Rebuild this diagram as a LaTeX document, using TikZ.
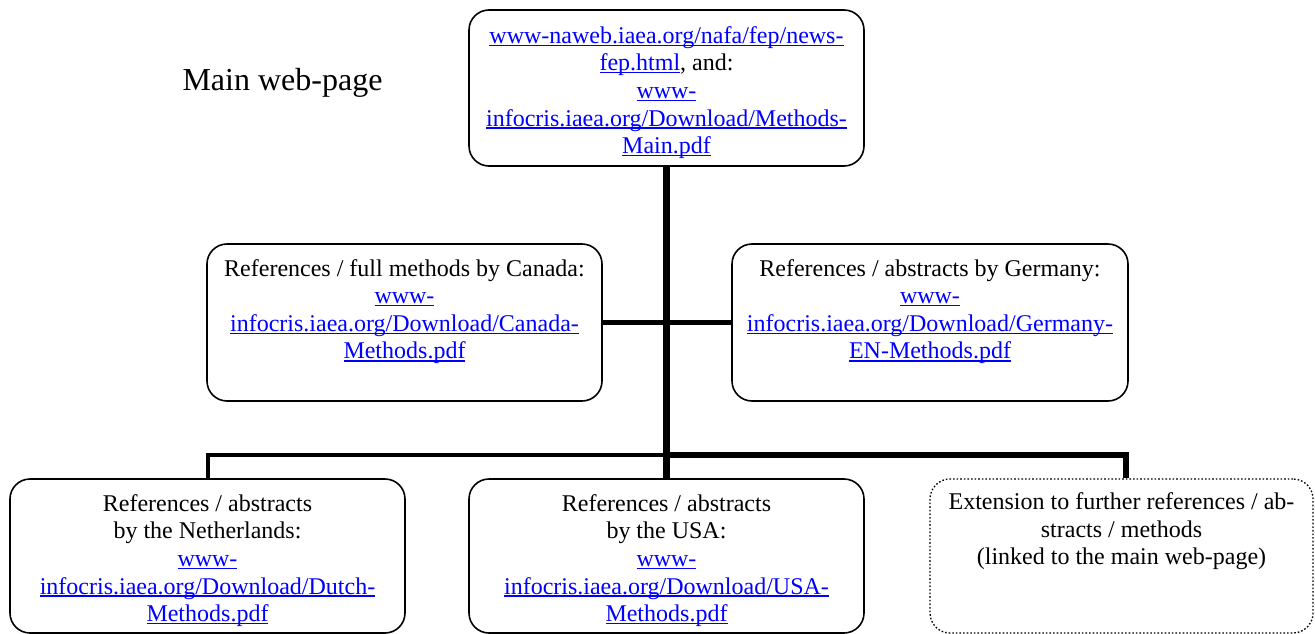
\documentclass[tikz,border=0pt]{standalone}
\usepackage{fontspec}
\setmainfont{Liberation Serif}
\usepackage{tikz}
\usetikzlibrary{shapes,arrows,positioning}
\definecolor{linkblue}{RGB}{0,0,255}
\newcommand{\weblink}[1]{\leavevmode{\color{linkblue}\setbox0\hbox{#1}\rlap{\rule[-2.6pt]{\wd0}{1.3pt}}\box0}}
\tikzstyle{block} = [rectangle, draw, line width=1.6pt, rounded corners=20pt,
    text width=384pt, align=flush center, minimum width=395pt, minimum height=156pt,
    inner sep=0pt, text height=26pt, font=\fontsize{24}{27.6}\selectfont]
\tikzstyle{extra} = [block, dotted, line width=1.3pt, minimum width=383pt, text width=372pt]
\tikzstyle{trunk} = [draw, line width=6.5pt]
\tikzstyle{line} = [draw, line width=5pt]
\tikzstyle{branch} = [draw, line width=4pt]
\tikzstyle{branchright} = [draw, line width=5.5pt]

\begin{document}
\begin{tikzpicture}[x=1pt, y=-1pt]
    \useasboundingbox (0,0) rectangle (1315,634);
    % Place nodes
    \node [font=\fontsize{32}{38}\selectfont, anchor=base] (title) at (282.5,90) {Main web-page};
    \node [block] (main) at (666.5,88) {\weblink{www-naweb.iaea.org/nafa/fep/news-}\\
        \weblink{fep.html}, and:\\ \weblink{www-}\\
        \weblink{infocris.iaea.org/Download/Methods-}\\ \weblink{Main.pdf}};
    \node [block, minimum height=157pt] (canada) at (404.5,322.5) {References / full methods by Canada:\\
        \weblink{www-}\\ \weblink{infocris.iaea.org/Download/Canada-}\\
        \weblink{Methods.pdf}\\ \strut};
    \node [block, minimum height=157pt, minimum width=396pt] (germany) at (930,322.5) {References / abstracts by Germany:\\
        \weblink{www-}\\ \weblink{infocris.iaea.org/Download/Germany-}\\
        \weblink{EN-Methods.pdf}\\ \strut};
    \node [block, minimum height=154pt] (dutch) at (207.5,556) {References / abstracts\\
        by the Netherlands:\\ \weblink{www-}\\
        \weblink{infocris.iaea.org/Download/Dutch-}\\ \weblink{Methods.pdf}};
    \node [block, minimum height=154pt] (usa) at (666.5,556) {References / abstracts\\
        by the USA:\\ \weblink{www-}\\
        \weblink{infocris.iaea.org/Download/USA-}\\ \weblink{Methods.pdf}};
    \node [extra, minimum height=154pt] (ext) at (1121.5,556) {Extension to further references / ab-\\
        stracts / methods\\ (linked to the main web-page)\\ \strut\\ \strut};
    \coordinate (hub) at (666.5,455);
    % Draw edges
    \path [trunk] (main) -- (hub);
    \path [line] (canada) -- (germany);
    \path [branch] (dutch) |- (hub);
    \path [trunk] (usa) -- (hub);
    \path [branchright] (hub) -| ([xshift=4.5pt]ext.north);
\end{tikzpicture}
\end{document}
